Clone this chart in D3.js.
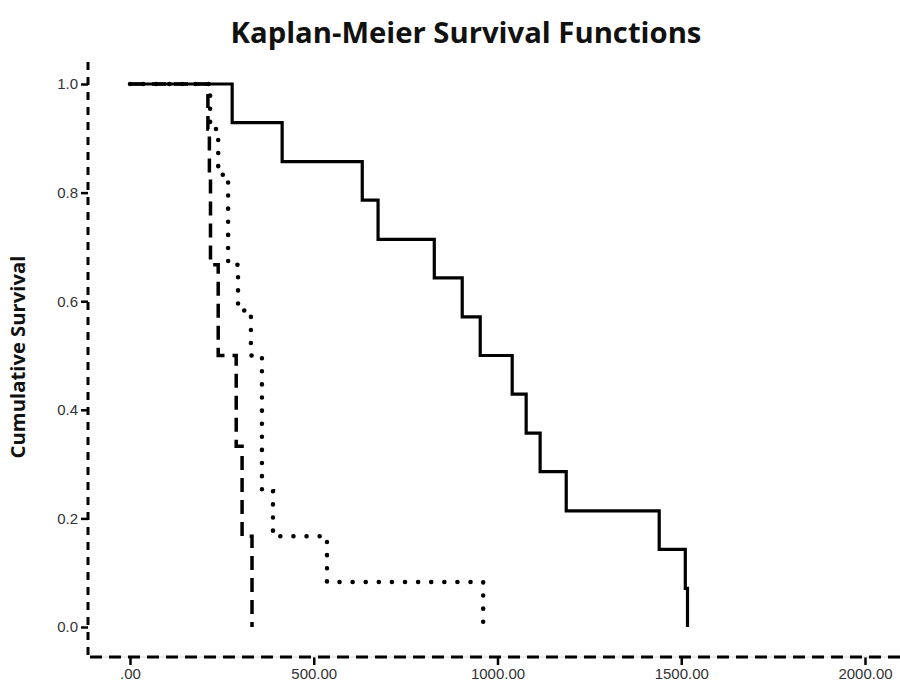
<!DOCTYPE html>
<html>
<head>
<meta charset="utf-8">
<script src="https://cdn.jsdelivr.net/npm/d3@7"></script>
<style>
  html, body { margin: 0; padding: 0; background: #fff; }
  svg { display: block; }
</style>
</head>
<body>
<svg id="chart" width="900" height="686"></svg>
<script>
// ---- data ----
const titleText = "Kaplan-Meier Survival Functions";
const yLabelText = "Cumulative Survival";
const xTicks = [0, 500, 1000, 1500, 2000];
const xTickLabels = [".00", "500.00", "1000.00", "1500.00", "2000.00"];
const yTicks = [0.0, 0.2, 0.4, 0.6, 0.8, 1.0];
const yTickLabels = ["0.0", "0.2", "0.4", "0.6", "0.8", "1.0"];

// solid curve
const solidTimes = [0, 278, 414, 632, 675, 828, 904, 953, 1040, 1078, 1116, 1187, 1440, 1511, 1517];
const solidSurv  = [1, 0.929, 0.857, 0.786, 0.714, 0.643, 0.571, 0.5, 0.429, 0.357, 0.286, 0.214, 0.143, 0.071, 0];
// dashed curve
const dashedTimes = [0, 212, 216, 219, 240, 289, 305, 332];
const dashedSurv  = [1, 0.917, 0.833, 0.667, 0.5, 0.333, 0.167, 0];
// dotted curve
const dottedTimes = [0, 218, 240, 267, 294, 329, 359, 389, 536, 961];
const dottedSurv  = [1, 0.917, 0.833, 0.667, 0.583, 0.5, 0.25, 0.167, 0.083, 0];

// ---- drawing ----
const svg = d3.select("#chart");
const x = d3.scaleLinear().domain([0, 2000]).range([130, 865]);
const y = d3.scaleLinear().domain([0, 1]).range([627, 84]);
const axisX = 88, axisY = 657;

function fit(el, target) {
  const w = el.node().getComputedTextLength();
  const fs = parseFloat(el.style("font-size"));
  el.style("font-size", (fs * target / w) + "px");
}

// title
const title = svg.append("text")
  .attr("x", 466).attr("y", 43)
  .attr("text-anchor", "middle")
  .style("font-family", "'Open Sans', sans-serif")
  .style("font-weight", "bold")
  .style("font-size", "25px")
  .attr("fill", "#111")
  .text(titleText);
fit(title, 471);

// y label
const yl = svg.append("text")
  .attr("transform", `translate(25,357) rotate(-90)`)
  .attr("text-anchor", "middle")
  .style("font-family", "'Open Sans', sans-serif")
  .style("font-weight", "bold")
  .style("font-size", "17px")
  .attr("fill", "#111")
  .text(yLabelText);
fit(yl, 203);

// axes
const gy = svg.append("g").attr("transform", `translate(${axisX},0)`)
  .call(d3.axisLeft(y).tickValues(yTicks).tickSize(7).tickPadding(3)
    .tickFormat((d, i) => yTickLabels[i]));
gy.select(".domain").remove();
gy.selectAll(".tick line").attr("stroke", "#000").attr("stroke-width", 2.5);
gy.selectAll(".tick text").style("font-family", "'Liberation Sans', Arial, sans-serif")
  .style("font-size", "15px").attr("fill", "#333");

const gx = svg.append("g").attr("transform", `translate(0,${axisY})`)
  .call(d3.axisBottom(x).tickValues(xTicks).tickSize(8).tickPadding(3)
    .tickFormat((d, i) => xTickLabels[i]));
gx.select(".domain").remove();
gx.selectAll(".tick line").attr("stroke", "#000").attr("stroke-width", 2.5);
gx.selectAll(".tick text").style("font-family", "'Liberation Sans', Arial, sans-serif")
  .style("font-size", "15px").attr("fill", "#333");

// faint guide under x axis dashes
svg.append("line").attr("x1", 90).attr("x2", 900).attr("y1", axisY).attr("y2", axisY)
  .attr("stroke", "#d6d6d6").attr("stroke-width", 1);
// dashed axis lines
svg.append("line").attr("x1", axisX).attr("x2", axisX).attr("y1", 62).attr("y2", axisY)
  .attr("stroke", "#000").attr("stroke-width", 3).attr("stroke-dasharray", "8 7");
svg.append("line").attr("x1", 90).attr("x2", 900).attr("y1", axisY).attr("y2", axisY)
  .attr("stroke", "#000").attr("stroke-width", 3).attr("stroke-dasharray", "12 7");

// curves
const line = d3.line().x(d => x(d[0])).y(d => y(d[1])).curve(d3.curveStepAfter);
function curve(times, surv, dash, cap, width) {
  svg.append("path")
    .datum(times.map((t, i) => [t, surv[i]]))
    .attr("d", line)
    .attr("fill", "none")
    .attr("stroke", "#000")
    .attr("stroke-width", width)
    .attr("stroke-linecap", cap)
    .attr("stroke-linejoin", "miter")
    .attr("stroke-dasharray", dash);
}
curve(dottedTimes, dottedSurv, "0.1 13", "round", 4.5);
curve(dashedTimes, dashedSurv, "14 8", "butt", 3.5);
curve(solidTimes, solidSurv, null, "butt", 3.2);
</script>
</body>
</html>
